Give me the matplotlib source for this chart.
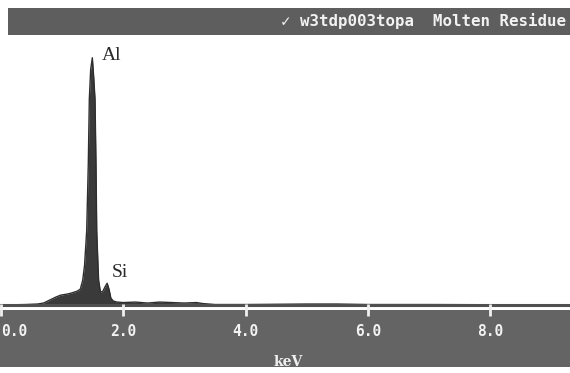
import matplotlib
matplotlib.use("Agg")
import matplotlib.pyplot as plt
from matplotlib.patches import Rectangle

# spectrum (counts in arbitrary units)
energy = [0.00, 0.40, 0.60, 0.70, 0.80, 0.90, 0.98, 1.08, 1.15, 1.25, 1.30,
          1.34, 1.37, 1.405, 1.431, 1.448, 1.47, 1.497, 1.52, 1.541, 1.557,
          1.569, 1.59, 1.60, 1.63, 1.67, 1.71, 1.74, 1.77, 1.80, 1.84, 1.90,
          2.00, 2.20, 2.40, 2.60, 2.80, 3.00, 3.20, 3.30, 3.50, 4.00, 5.00,
          5.50, 6.00, 7.00, 8.00, 9.30]
counts = [0, 0.5, 1, 2, 5, 8, 10, 11, 12, 14, 16,
          25, 40, 75, 142, 208, 238, 250, 230, 208, 142,
          75, 40, 25, 13, 14, 19, 22, 16, 7, 4, 3,
          2.5, 3, 2, 3, 2.5, 2, 2.5, 1.5, 0.5, 0.5, 1,
          1, 0.5, 0.5, 0.3, 0.3]

peak_names = ["Al", "Si"]
peak_energy = [1.655, 1.82]
peak_height = [248, 28]

tick_values = [0, 2, 4, 6, 8]
tick_labels = ["0.0", "2.0", "4.0", "6.0", "8.0"]
title_text = "\u2713 w3tdp003topa  Molten Residue"
x_label = "keV"

W, H = 570, 373
xlo, xhi = -0.7 / 61.2, 569.3 / 61.2


def frac(y_top, y_bot):
    return (H - y_bot) / H, (y_bot - y_top) / H


fig = plt.figure(figsize=(W / 100, H / 100), dpi=100)
fig.patch.set_facecolor("white")

# top title bar
fig.patches.append(Rectangle((8 / W, (H - 35) / H), (W - 8) / W, 27 / H,
                             transform=fig.transFigure, facecolor="#5e5e5e",
                             edgecolor="none", zorder=0))
fig.text(281 / W, (H - 21) / H, title_text, color="#f2f2f2", fontsize=11.3,
         fontweight="bold", family=["DejaVu Sans Mono", "DejaVu Sans"],
         ha="left", va="center")

# spectrum
b, h = frac(35, 308)
ax = fig.add_axes([0, b, 1, h])
ax.fill_between(energy, counts, 0, color="#3a3a3a", linewidth=0)
ax.plot(energy, counts, color="#2e2e2e", linewidth=1.0)
ax.plot([energy[0], energy[-1]], [0, 0], color="#505050", linewidth=2.2)
for name, e, c in zip(peak_names, peak_energy, peak_height):
    ax.text(e, c, name, fontsize=14, family="Liberation Serif",
            color="#2a2a2a", ha="left", va="baseline")
ax.set_xlim(xlo, xhi)
ax.set_ylim(-3, 273)
ax.axis("off")

# bottom axis band
b, h = frac(310, 367)
bax = fig.add_axes([0, b, 1, h])
bax.set_facecolor("#646464")
bax.set_xlim(xlo, xhi)
bax.set_ylim(0, 57)
for s in bax.spines.values():
    s.set_visible(False)
bax.set_yticks([])
bax.set_xticks(tick_values)
bax.xaxis.set_ticks_position("top")
bax.tick_params(axis="x", direction="inout", length=8, width=2,
                color="#f0f0f0", labeltop=False, labelbottom=False)
for v, lab in zip(tick_values, tick_labels):
    bax.text(v, 36, lab, color="#f2f2f2", fontsize=10.5, fontweight="bold",
             family="DejaVu Sans Mono", ha="left" if v == 0 else "center",
             va="center")
bax.text(288 / W, 5 / 57, x_label, transform=bax.transAxes, color="#f0f0f0",
         fontsize=10, fontweight="bold", family="DejaVu Serif",
         ha="center", va="center")

fig.savefig("out.png", dpi=100, facecolor="white")
